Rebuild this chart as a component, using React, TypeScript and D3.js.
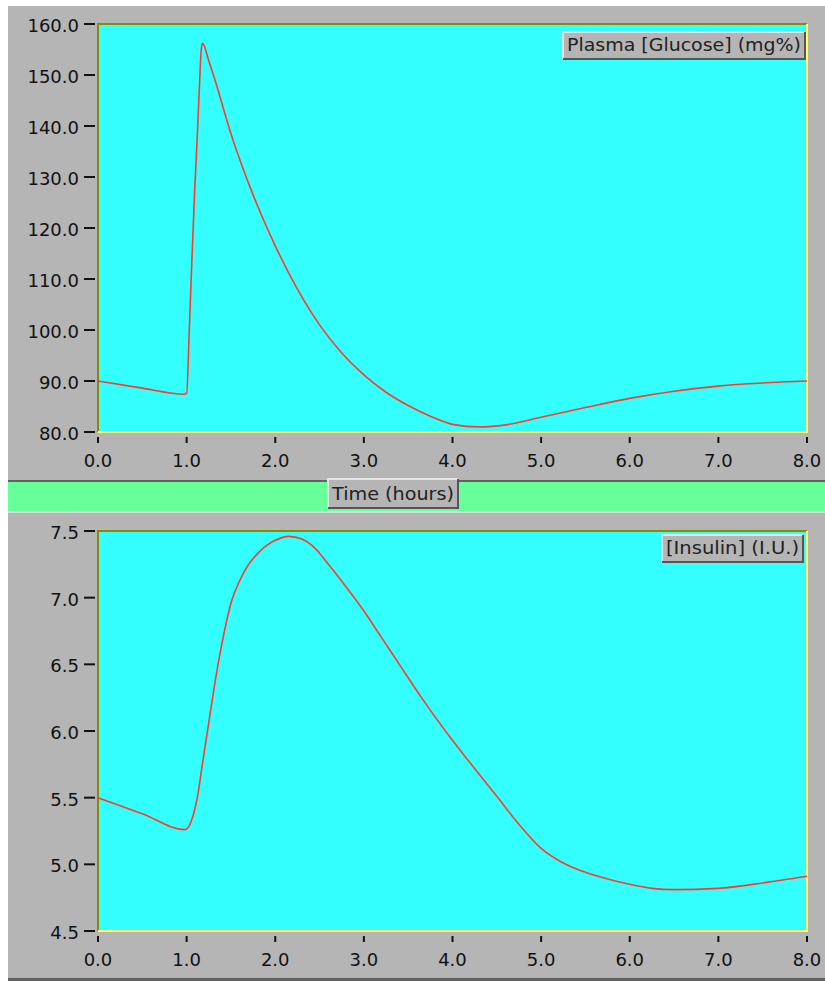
import React from "react";
import * as d3 from "d3";

const timeTicks = [0, 1, 2, 3, 4, 5, 6, 7, 8];
const glucoseTicks = [80, 90, 100, 110, 120, 130, 140, 150, 160];
const insulinTicks = [4.5, 5.0, 5.5, 6.0, 6.5, 7.0, 7.5];

const glucoseTime = [0, 0.5, 0.97, 1.0, 1.03, 1.06, 1.09, 1.12, 1.145, 1.165, 1.18, 1.25, 1.32, 1.5, 1.75, 2.0, 2.25, 2.5, 2.75, 3.0, 3.25, 3.5, 3.75, 4.0, 4.3, 4.6, 5.0, 5.5, 6.0, 6.5, 7.0, 7.5, 8.0];
const glucoseValue = [90.0, 88.6, 87.4, 87.6, 100, 114, 127, 138, 148, 155, 156.2, 152.8, 149, 138.5, 126.5, 116.5, 108, 101, 95.5, 91.2, 87.8, 85.2, 83.1, 81.5, 81.0, 81.4, 82.9, 84.8, 86.6, 88.0, 89.0, 89.6, 90.0];

const insulinTime = [0, 0.5, 0.98, 1.05, 1.12, 1.18, 1.24, 1.3, 1.36, 1.43, 1.51, 1.6, 1.7, 1.8, 1.9, 2.0, 2.15, 2.3, 2.45, 2.6, 2.8, 3.0, 3.2, 3.4, 3.65, 3.92, 4.2, 4.5, 4.75, 5.0, 5.25, 5.5, 5.75, 6.0, 6.25, 6.5, 7.0, 7.5, 8.0];
const insulinValue = [5.5, 5.38, 5.26, 5.32, 5.5, 5.76, 6.02, 6.28, 6.52, 6.76, 6.98, 7.13, 7.25, 7.33, 7.39, 7.43, 7.46, 7.44, 7.37, 7.25, 7.08, 6.9, 6.7, 6.5, 6.25, 6.0, 5.76, 5.51, 5.3, 5.12, 5.01, 4.94, 4.89, 4.85, 4.82, 4.81, 4.82, 4.86, 4.91];

const FONT = "'DejaVu Sans', sans-serif";

function Legend({ x, y, w, h, label }: { x: number; y: number; w: number; h: number; label: string }) {
  return (
    <g>
      <rect x={x} y={y} width={w} height={h} fill="#b5b5b5" />
      <path d={`M${x},${y + h} V${y} H${x + w}`} fill="none" stroke="#e6e6e6" strokeWidth={2} />
      <path d={`M${x + w},${y} V${y + h} H${x}`} fill="none" stroke="#555" strokeWidth={2} />
      <text x={x + 4} y={y + h - 8} fontFamily={FONT} fontSize={17} fill="#222" textLength={w - 8} lengthAdjust="spacingAndGlyphs">
        {label}
      </text>
    </g>
  );
}

function Panel({
  top, bottom, yDomain, yTicks, times, values, legend, legendBox,
}: {
  top: number; bottom: number; yDomain: [number, number]; yTicks: number[];
  times: number[]; values: number[]; legend: string; legendBox: [number, number, number, number];
}) {
  const left = 98;
  const right = 807;
  const x = d3.scaleLinear().domain([0, 8]).range([left, right]);
  const y = d3.scaleLinear().domain(yDomain).range([bottom, top]);
  const pts = times.map((t, i) => [t, values[i]] as [number, number]);
  const line = d3.line<[number, number]>().x((d) => x(d[0])).y((d) => y(d[1])).curve(d3.curveMonotoneX);
  const fmt = d3.format(".1f");
  return (
    <g>
      <rect x={left} y={top} width={right - left} height={bottom - top} fill="#33ffff" />
      <path d={`M${left},${bottom} V${top} H${right}`} fill="none" stroke="#8a8a00" strokeWidth={2} />
      <path d={`M${right},${top} V${bottom} H${left}`} fill="none" stroke="#ffff66" strokeWidth={2} />
      <path d={line(pts) || ""} fill="none" stroke="#ff3a2a" strokeWidth={1.6} />
      {yTicks.map((v) => (
        <g key={v}>
          <line x1={84} x2={95} y1={y(v)} y2={y(v)} stroke="#111" strokeWidth={2} />
          <text x={79} y={y(v) + 8} textAnchor="end" fontFamily={FONT} fontSize={18} fill="#111">
            {fmt(v)}
          </text>
        </g>
      ))}
      {timeTicks.map((t) => (
        <g key={t}>
          <line x1={x(t)} x2={x(t)} y1={bottom + 5} y2={bottom + 11} stroke="#111" strokeWidth={2} />
          <text x={x(t)} y={bottom + 35} textAnchor="middle" fontFamily={FONT} fontSize={18} fill="#111">
            {fmt(t)}
          </text>
        </g>
      ))}
      <Legend x={legendBox[0]} y={legendBox[1]} w={legendBox[2]} h={legendBox[3]} label={legend} />
    </g>
  );
}

export default function App() {
  return (
    <div style={{ position: "absolute", left: 0, top: 0 }}>
      <svg width={825} height={981} style={{ display: "block" }}>
        <rect x={0} y={0} width={825} height={981} fill="#ffffff" />
        <rect x={8} y={6} width={817} height={475} fill="#b5b5b5" />
        <rect x={8} y={480} width={817} height={2} fill="#606060" />
        <rect x={8} y={482} width={817} height={29} fill="#66ff99" />
        <rect x={8} y={511} width={817} height={2} fill="#dcdcdc" />
        <rect x={8} y={513} width={817} height={466} fill="#b5b5b5" />
        <rect x={8} y={978} width={817} height={3} fill="#606060" />
        <Panel
          top={24}
          bottom={432}
          yDomain={[80, 160]}
          yTicks={glucoseTicks}
          times={glucoseTime}
          values={glucoseValue}
          legend="Plasma [Glucose] (mg%)"
          legendBox={[563, 32, 242, 27]}
        />
        <Panel
          top={531}
          bottom={931}
          yDomain={[4.5, 7.5]}
          yTicks={insulinTicks}
          times={insulinTime}
          values={insulinValue}
          legend="[Insulin] (I.U.)"
          legendBox={[662, 535, 141, 27]}
        />
        <Legend x={328} y={479} w={130} h={29} label="Time (hours)" />
      </svg>
    </div>
  );
}
